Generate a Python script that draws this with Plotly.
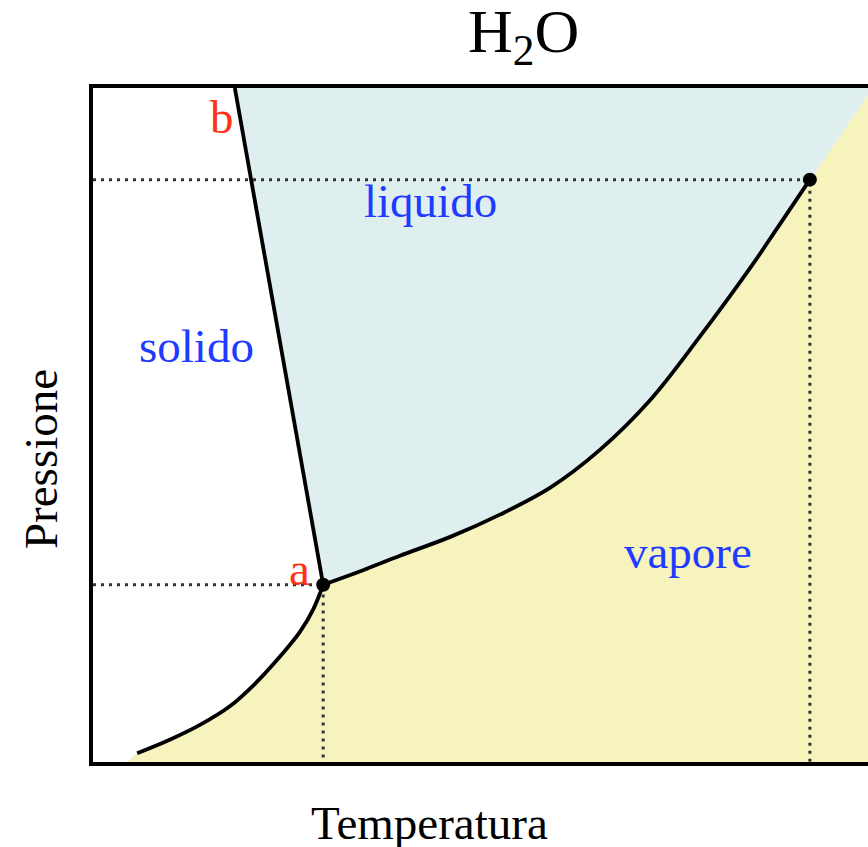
import plotly.graph_objects as go

# Schematic phase diagram of water (arbitrary units 0..100)
sub_T = [5.7, 9.9, 13.8, 17.7, 20.9, 24.1, 26.7, 28.4, 29.7]
sub_P = [1.3, 3.3, 5.5, 8.3, 11.6, 15.6, 19.3, 22.6, 26.3]

vap_T = [29.7, 34.5, 39.6, 46.1, 52.5, 59.0, 65.4, 71.9, 78.3, 84.8, 88.4, 92.5]
vap_P = [26.3, 28.3, 30.6, 33.4, 36.7, 40.7, 46.3, 53.7, 63.1, 73.3, 79.4, 86.4]

melt_T = [29.7, 18.3]
melt_P = [26.3, 100.0]

super_T = [92.5, 100.6]
super_P = [86.4, 100.0]

triple = (29.7, 26.3)
critical = (92.5, 86.4)

FONT = "Liberation Serif"
BLUE = "#1f3bff"
RED = "#ff3216"

fig = go.Figure()

# vapour region (yellow)
vx = [4.4] + sub_T + vap_T[1:] + super_T[1:] + [102, 102, 4.4]
vy = [0.0] + sub_P + vap_P[1:] + super_P[1:] + [100, 0, 0]
fig.add_trace(go.Scatter(x=vx, y=vy, fill="toself", fillcolor="#f6f3bc",
                         line=dict(width=0), mode="lines", hoverinfo="skip"))

# liquid region (light blue)
lx = melt_T[::-1] + vap_T[1:] + super_T[1:] + [melt_T[1]]
ly = melt_P[::-1] + vap_P[1:] + super_P[1:] + [100]
fig.add_trace(go.Scatter(x=lx, y=ly, fill="toself", fillcolor="#dfeeee",
                         line=dict(width=0), mode="lines", hoverinfo="skip"))

# dotted guide lines
dot = dict(color="#333333", width=3, dash="3px,5px")
fig.add_trace(go.Scatter(x=[0, critical[0], critical[0]], y=[critical[1], critical[1], 0],
                         mode="lines", line=dot, hoverinfo="skip"))
fig.add_trace(go.Scatter(x=[0, triple[0], triple[0]], y=[triple[1], triple[1], 0],
                         mode="lines", line=dot, hoverinfo="skip"))

# phase boundaries
fig.add_trace(go.Scatter(x=sub_T, y=sub_P, mode="lines",
                         line=dict(color="black", width=3.8, shape="spline", smoothing=1.0),
                         hoverinfo="skip"))
fig.add_trace(go.Scatter(x=vap_T, y=vap_P, mode="lines",
                         line=dict(color="black", width=3.8, shape="spline", smoothing=1.0),
                         hoverinfo="skip"))
fig.add_trace(go.Scatter(x=melt_T, y=melt_P, mode="lines",
                         line=dict(color="black", width=3.8), hoverinfo="skip"))
fig.add_trace(go.Scatter(x=[triple[0], critical[0]], y=[triple[1], critical[1]],
                         mode="markers", marker=dict(color="black", size=14), hoverinfo="skip"))

labels = [
    ("liquido", 43.5, 83.2, BLUE),
    ("solido", 13.3, 61.7, BLUE),
    ("vapore", 76.8, 31.2, BLUE),
    ("a", 26.7, 28.6, RED),
    ("b", 16.6, 95.7, RED),
]
for txt, x, y, c in labels:
    fig.add_annotation(x=x, y=y, text=txt, showarrow=False,
                       font=dict(family=FONT, size=47, color=c))

fig.add_annotation(xref="paper", yref="paper", x=0.555, y=1.078, text="H<sub>2</sub>O",
                   showarrow=False, yanchor="middle",
                   font=dict(family=FONT, size=62, color="black"))
fig.add_annotation(xref="paper", yref="paper", x=0.434, y=-0.09, text="Temperatura",
                   showarrow=False, yanchor="middle",
                   font=dict(family=FONT, size=47, color="black"))
fig.add_annotation(xref="paper", yref="paper", x=-0.067, y=0.4496, text="Pressione",
                   showarrow=False, textangle=-90, xanchor="center", yanchor="middle",
                   font=dict(family=FONT, size=47, color="black"))

fig.update_layout(
    width=868, height=847,
    margin=dict(l=93, r=0, t=88, b=85),
    paper_bgcolor="white", plot_bgcolor="white",
    showlegend=False,
    xaxis=dict(range=[0, 100], showgrid=False, zeroline=False, showticklabels=False,
               ticks="", showline=True, linecolor="black", linewidth=4, mirror=True),
    yaxis=dict(range=[0, 100], showgrid=False, zeroline=False, showticklabels=False,
               ticks="", showline=True, linecolor="black", linewidth=4, mirror=False),
)

fig.write_html("out.html", config={"displayModeBar": False},
               post_script="document.body.style.margin='0';document.body.style.overflow='hidden';")
